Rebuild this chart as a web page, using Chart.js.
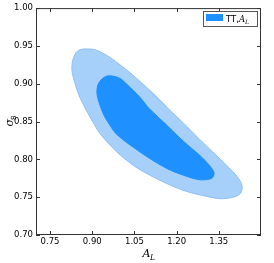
<!DOCTYPE html>
<html lang="en">
<head>
<meta charset="UTF-8">
<title>sigma8 vs A_L contours</title>
<script src="https://cdn.jsdelivr.net/npm/chart.js"></script>
<style>
  html, body { margin: 0; padding: 0; background: #fff; }
</style>
</head>
<body>
<canvas id="myChart" width="274" height="263"></canvas>
<script>
// tick positions
const xTicks = [0.75, 0.90, 1.05, 1.20, 1.35];
const yTicks = [0.70, 0.75, 0.80, 0.85, 0.90, 0.95, 1.00];

// 95% contour (outer), traced clockwise starting on the upper edge
const outerAL = [1.105, 1.165, 1.224, 1.283, 1.342, 1.402, 1.425, 1.433, 1.427, 1.402, 1.354, 1.283, 1.224, 1.165, 1.105, 1.046, 0.987, 0.928, 0.892, 0.856, 0.839, 0.828, 0.830, 0.842, 0.856, 0.874, 0.910, 0.945, 0.981, 1.016, 1.052];
const outerS8 = [0.891, 0.869, 0.848, 0.826, 0.805, 0.783, 0.772, 0.764, 0.755, 0.750, 0.748, 0.753, 0.759, 0.768, 0.779, 0.792, 0.810, 0.834, 0.856, 0.882, 0.900, 0.917, 0.930, 0.941, 0.945, 0.946, 0.945, 0.939, 0.930, 0.920, 0.909];

// 68% contour (inner)
const innerAL = [1.105, 1.165, 1.224, 1.283, 1.319, 1.333, 1.325, 1.283, 1.224, 1.165, 1.105, 1.046, 0.987, 0.963, 0.942, 0.928, 0.917, 0.919, 0.931, 0.951, 0.974, 0.999, 1.024, 1.046, 1.070];
const innerS8 = [0.866, 0.845, 0.824, 0.805, 0.791, 0.782, 0.775, 0.773, 0.779, 0.788, 0.801, 0.816, 0.833, 0.845, 0.858, 0.871, 0.886, 0.897, 0.905, 0.910, 0.910, 0.907, 0.899, 0.891, 0.882];

const legendText = 'TT,';

// repeat the first two points so the spline closes smoothly
function closedPoints(xs, ys) {
    let pts = xs.map((x, i) => ({ x: x, y: ys[i] }));
    pts.push(pts[0], pts[1]);
    return pts;
}

const tickFont = { family: 'DejaVu Sans', size: 8.5 };

// frame, inward ticks, axis titles and legend like matplotlib
const decor = {
    id: 'decor',
    afterDraw(chart) {
        const ctx = chart.ctx;
        const a = chart.chartArea;
        const xs = chart.scales.x, ys = chart.scales.y;
        ctx.save();
        ctx.strokeStyle = '#333';
        ctx.lineWidth = 1;
        ctx.strokeRect(a.left + 0.5, a.top + 0.5, a.right - a.left - 1, a.bottom - a.top - 1);

        ctx.beginPath();
        xTicks.forEach(v => {
            let p = Math.round(xs.getPixelForValue(v)) + 0.5;
            ctx.moveTo(p, a.bottom); ctx.lineTo(p, a.bottom - 4);
            ctx.moveTo(p, a.top); ctx.lineTo(p, a.top + 4);
        });
        yTicks.forEach(v => {
            let p = Math.round(ys.getPixelForValue(v)) + 0.5;
            ctx.moveTo(a.left, p); ctx.lineTo(a.left + 4, p);
            ctx.moveTo(a.right, p); ctx.lineTo(a.right - 4, p);
        });
        ctx.stroke();

        // x title A_L
        ctx.fillStyle = '#000';
        ctx.textBaseline = 'alphabetic';
        ctx.textAlign = 'left';
        ctx.font = 'italic 11px "DejaVu Serif"';
        let cx = (a.left + a.right) / 2;
        ctx.fillText('A', cx - 6, 257);
        ctx.font = 'italic 7.5px "DejaVu Serif"';
        ctx.fillText('L', cx + 1.5, 260);

        // y title sigma_8
        ctx.translate(13, (a.top + a.bottom) / 2);
        ctx.rotate(-Math.PI / 2);
        ctx.font = 'italic 11px "DejaVu Serif"';
        ctx.fillText('σ', -5, 0);
        ctx.font = '7px "DejaVu Sans"';
        ctx.fillText('8', 1.5, 3);
        ctx.setTransform(1, 0, 0, 1, 0, 0);

        // legend
        ctx.fillStyle = '#fff';
        ctx.fillRect(203, 11, 54, 15);
        ctx.strokeStyle = '#555';
        ctx.strokeRect(203.5, 11.5, 54, 15);
        ctx.fillStyle = '#1e90ff';
        ctx.fillRect(206, 14, 17, 7);
        ctx.fillStyle = '#000';
        ctx.font = '8.5px "DejaVu Sans"';
        ctx.fillText(legendText, 226, 21.5);
        let w = ctx.measureText(legendText).width;
        ctx.font = 'italic 8.5px "DejaVu Serif"';
        ctx.fillText('A', 226 + w, 21.5);
        let wa = ctx.measureText('A').width;
        ctx.font = 'italic 6px "DejaVu Serif"';
        ctx.fillText('L', 226 + w + wa, 23.5);
        ctx.restore();
    }
};

const config = {
    type: 'scatter',
    data: {
        datasets: [
            {
                label: '95%',
                data: closedPoints(outerAL, outerS8),
                showLine: true,
                tension: 0.3,
                fill: 'shape',
                backgroundColor: 'rgb(166, 208, 250)',
                borderColor: 'rgb(140, 192, 248)',
                borderWidth: 1,
                pointRadius: 0,
                order: 2
            },
            {
                label: '68%',
                data: closedPoints(innerAL, innerS8),
                showLine: true,
                tension: 0.3,
                fill: 'shape',
                backgroundColor: 'rgb(30, 144, 255)',
                borderColor: 'rgb(30, 144, 255)',
                borderWidth: 1,
                pointRadius: 0,
                order: 1
            }
        ]
    },
    options: {
        responsive: false,
        animation: false,
        devicePixelRatio: 1,
        layout: { padding: { top: 7, right: 13, left: 0, bottom: 0 } },
        plugins: {
            legend: { display: false },
            tooltip: { enabled: false }
        },
        scales: {
            x: {
                type: 'linear',
                min: 0.70,
                max: 1.50,
                grid: { display: false, drawTicks: false },
                border: { display: false },
                afterBuildTicks: s => { s.ticks = xTicks.map(v => ({ value: v })); },
                afterFit: s => { s.height = 28; },
                ticks: {
                    font: tickFont,
                    color: '#000',
                    padding: 2,
                    maxRotation: 0,
                    callback: v => v.toFixed(2)
                }
            },
            y: {
                type: 'linear',
                min: 0.70,
                max: 1.00,
                grid: { display: false, drawTicks: false },
                border: { display: false },
                afterBuildTicks: s => { s.ticks = yTicks.map(v => ({ value: v })); },
                afterFit: s => { s.width = 36; },
                ticks: {
                    font: tickFont,
                    color: '#000',
                    padding: 3,
                    callback: v => v.toFixed(2)
                }
            }
        }
    },
    plugins: [decor]
};

const ctx = document.getElementById('myChart').getContext('2d');
const myChart = new Chart(ctx, config);
</script>
</body>
</html>
